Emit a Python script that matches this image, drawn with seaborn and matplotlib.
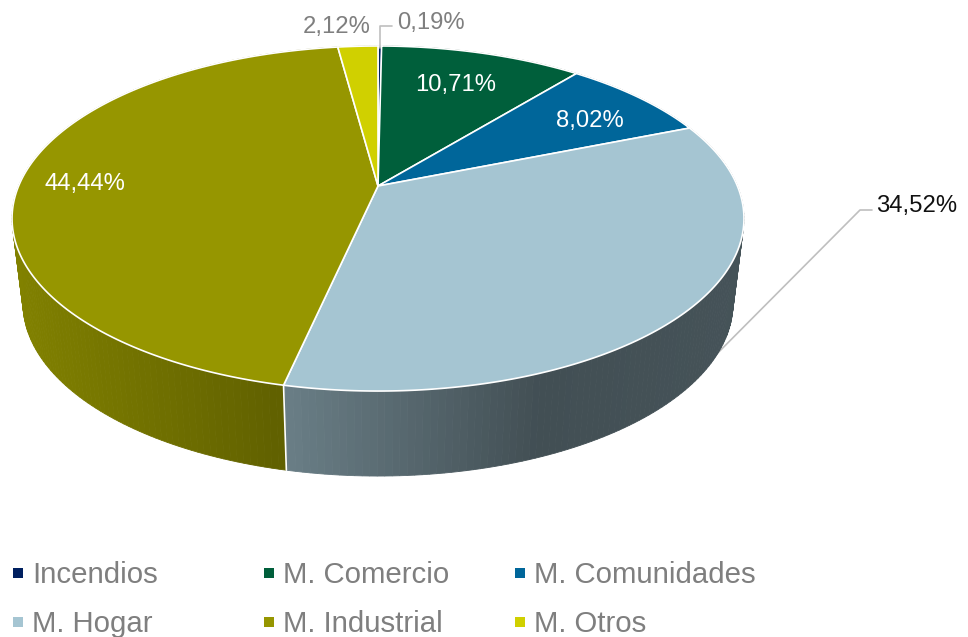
import numpy as np
import matplotlib
matplotlib.use("Agg")
import matplotlib.pyplot as plt
import seaborn as sns

# --- Data ---
categories = ['Incendios', 'M. Comercio', 'M. Comunidades', 'M. Hogar', 'M. Industrial', 'M. Otros']
shares = [0.19, 10.71, 8.02, 34.52, 44.44, 2.12]
share_labels = ['0,19%', '10,71%', '8,02%', '34,52%', '44,44%', '2,12%']
slice_colors = ['#002060', '#005f3b', '#00669a', '#a5c5d2', '#969600', '#d0d000']

sns.set_theme(style='white')
plt.rcParams['font.family'] = ['Liberation Sans', 'DejaVu Sans']
palette = sns.color_palette(slice_colors)

# --- Perspective of the disc (figure pixels) ---
APEX_X, APEX_Y = 378, 186
RX, RY, PERSP = 359.4, 166.4, 0.1885
WALL_SX, WALL_SY, WALL_DROP = 0.97, 1.0, 85


def rim(theta):
    denom = 1 + PERSP * np.cos(theta)
    return RX * np.sin(theta) / denom, RY * np.cos(theta) / denom


def top_xy(theta):
    dx, dy = rim(theta)
    return APEX_X + dx, APEX_Y - dy


def wall_xy(theta):
    dx, dy = rim(theta)
    return APEX_X + WALL_SX * dx, APEX_Y - WALL_SY * dy + WALL_DROP


def shade(x):
    # side wall gets darker towards the lower right
    return np.interp(x, [12, 284, 540, 744], [0.86, 0.64, 0.40, 0.42])


fig, ax = plt.subplots(figsize=(9.68, 6.37), dpi=100)
ax.set_position([0, 0, 1, 1])
ax.set_xlim(0, 968)
ax.set_ylim(637, 0)
ax.axis('off')

edges = np.cumsum([0] + shares) / sum(shares) * 2 * np.pi

# --- Leader line behind the wall ---
ax.plot([872, 860, 675], [210, 210, 396], color='#bfbfbf', lw=1.2, zorder=1)

# --- Side wall ---
for i, color in enumerate(palette):
    ts = np.arange(edges[i], edges[i + 1], np.radians(1.0))
    ts = np.append(ts, edges[i + 1])
    for a, b in zip(ts[:-1], ts[1:]):
        tx0, ty0 = top_xy(a)
        tx1, ty1 = top_xy(b)
        bx0, by0 = wall_xy(a)
        bx1, by1 = wall_xy(b)
        c = np.array(color) * shade((tx0 + tx1) / 2)
        ax.fill([tx0, tx1, bx1, bx0], [ty0, ty1, by1, by0], color=c, lw=0.6, zorder=2)

# white seam where the wall changes colour
seam = edges[4]
sx0, sy0 = top_xy(seam)
sx1, sy1 = wall_xy(seam)
ax.plot([sx0, sx1], [sy0, sy1], color='white', lw=1.2, zorder=3)

# --- Top face ---
for i, color in enumerate(palette):
    ts = np.linspace(edges[i], edges[i + 1], 200)
    xs, ys = top_xy(ts)
    ax.fill(np.r_[APEX_X, xs], np.r_[APEX_Y, ys], facecolor=color, edgecolor='white', lw=1.2,
            joinstyle='round', zorder=4)

# --- Labels ---
ax.plot([380, 380, 392], [48, 26, 26], color='#bfbfbf', lw=1.2, zorder=5)
lab = dict(fontsize=17.2, va='center', zorder=6)
ax.text(397, 23, share_labels[0], color='#7f7f7f', ha='left', **lab)
ax.text(456, 85, share_labels[1], color='white', ha='center', **lab)
ax.text(590, 121, share_labels[2], color='white', ha='center', **lab)
ax.text(876, 206, share_labels[3], color='#111111', ha='left', **lab)
ax.text(85, 184, share_labels[4], color='white', ha='center', **lab)
ax.text(337, 27, share_labels[5], color='#7f7f7f', ha='center', **lab)

# --- Legend ---
legend_x = [18, 269, 520]
legend_y = [573, 622]
for i, name in enumerate(categories):
    lx = legend_x[i % 3]
    ly = legend_y[i // 3]
    ax.scatter([lx], [ly], marker='s', s=50, color=palette[i], linewidths=0, zorder=6)
    ax.text(lx + 14, ly + 2, name, color='#7f7f7f', fontsize=21.2, va='center', ha='left', zorder=6)

fig.savefig('out.png', dpi=100, facecolor='white')
